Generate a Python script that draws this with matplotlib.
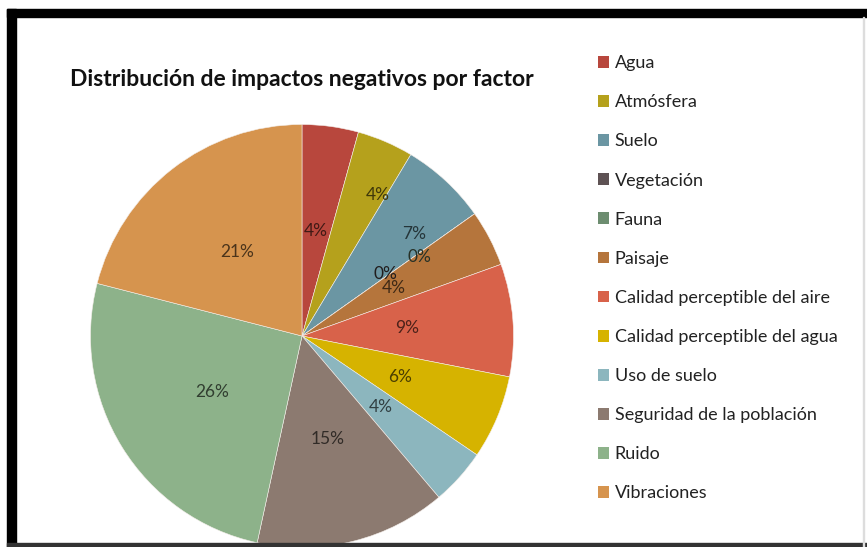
import numpy as np
import matplotlib
matplotlib.use("Agg")
import matplotlib.pyplot as plt
from matplotlib.patches import Rectangle, Patch

# data (percent of negative impacts)
factors = [
    "Agua", "Atmósfera", "Suelo", "Vegetación", "Fauna", "Paisaje",
    "Calidad perceptible del aire", "Calidad perceptible del agua",
    "Uso de suelo", "Seguridad de la población", "Ruido", "Vibraciones",
]
impactos = [4.3, 4.3, 6.6, 0, 0, 4.3, 8.6, 6.4, 4.3, 14.6, 25.6, 21.0]
colores = [
    "#B8473D", "#B5A11C", "#6B96A3", "#5E5254", "#6D8D70", "#B5753C",
    "#D8624A", "#D6B300", "#8CB6BE", "#8C7A70", "#8DB28A", "#D6944E",
]
titulo = "Distribución de impactos negativos por factor"

# label placement (fraction of radius, clockwise shift in degrees)
label_r = [0.5, 0.755, 0.715, 0.49, 0.67, 0.49, 0.5, 0.5, 0.5, 0.5, 0.5, 0.5]
label_shift = [0, 5, 5, -1.5, 1.5, 0, 0, 0, 0, 0, 0, 0]

plt.rcParams["font.family"] = ["Lato", "DejaVu Sans"]

W, H = 867, 547
fig = plt.figure(figsize=(W / 100, H / 100), dpi=100)

# frame around the screenshot
fig.patches.append(Rectangle((7 / W, 1 - 17 / H), 1, 8 / H, transform=fig.transFigure,
                             color="black", zorder=0))
fig.patches.append(Rectangle((7 / W, 0), 9 / W, 1 - 9 / H, transform=fig.transFigure,
                             color="black", zorder=0))
fig.patches.append(Rectangle((7 / W, 0), 1 - 7 / W, 4 / H, transform=fig.transFigure,
                             color="#333333", zorder=0))
fig.patches.append(Rectangle((1 - 4 / W, 0), 1 / W, 1 - 17 / H, transform=fig.transFigure,
                             color="#dddddd", zorder=0))

cx, cy, rad = 302, 547 - 336, 211.5
ax = fig.add_axes([(cx - rad) / W, (cy - rad) / H, 2 * rad / W, 2 * rad / H])
wedges, _ = ax.pie(impactos, colors=colores, startangle=90, counterclock=False,
                   radius=1, wedgeprops=dict(linewidth=0.4, edgecolor="#f4eeea"))
ax.set_xlim(-1, 1)
ax.set_ylim(-1, 1)
ax.axis("off")

total = sum(impactos)
for w, v, c, r, s in zip(wedges, impactos, colores, label_r, label_shift):
    mid = np.deg2rad((w.theta1 + w.theta2) / 2 - s)
    rgb = np.array(matplotlib.colors.to_rgb(c)) * 0.35
    ax.text(r * np.cos(mid), r * np.sin(mid), f"{v / total * 100:.0f}%",
            ha="center", va="center", fontsize=12.5, color=rgb)

fig.text(cx / W, 1 - 80 / H, titulo, ha="center", va="center",
         fontsize=16.5, fontweight="bold", color="#111111")

handles = [Patch(facecolor=c, edgecolor="none") for c in colores]
fig.legend(handles, factors, loc="upper left", bbox_to_anchor=(582 / W, 1 - 39 / H),
           frameon=False, fontsize=13, labelspacing=1.28, handlelength=0.62,
           handleheight=0.62, handletextpad=0.3, labelcolor="#222222")

fig.savefig("out.png", dpi=100)
